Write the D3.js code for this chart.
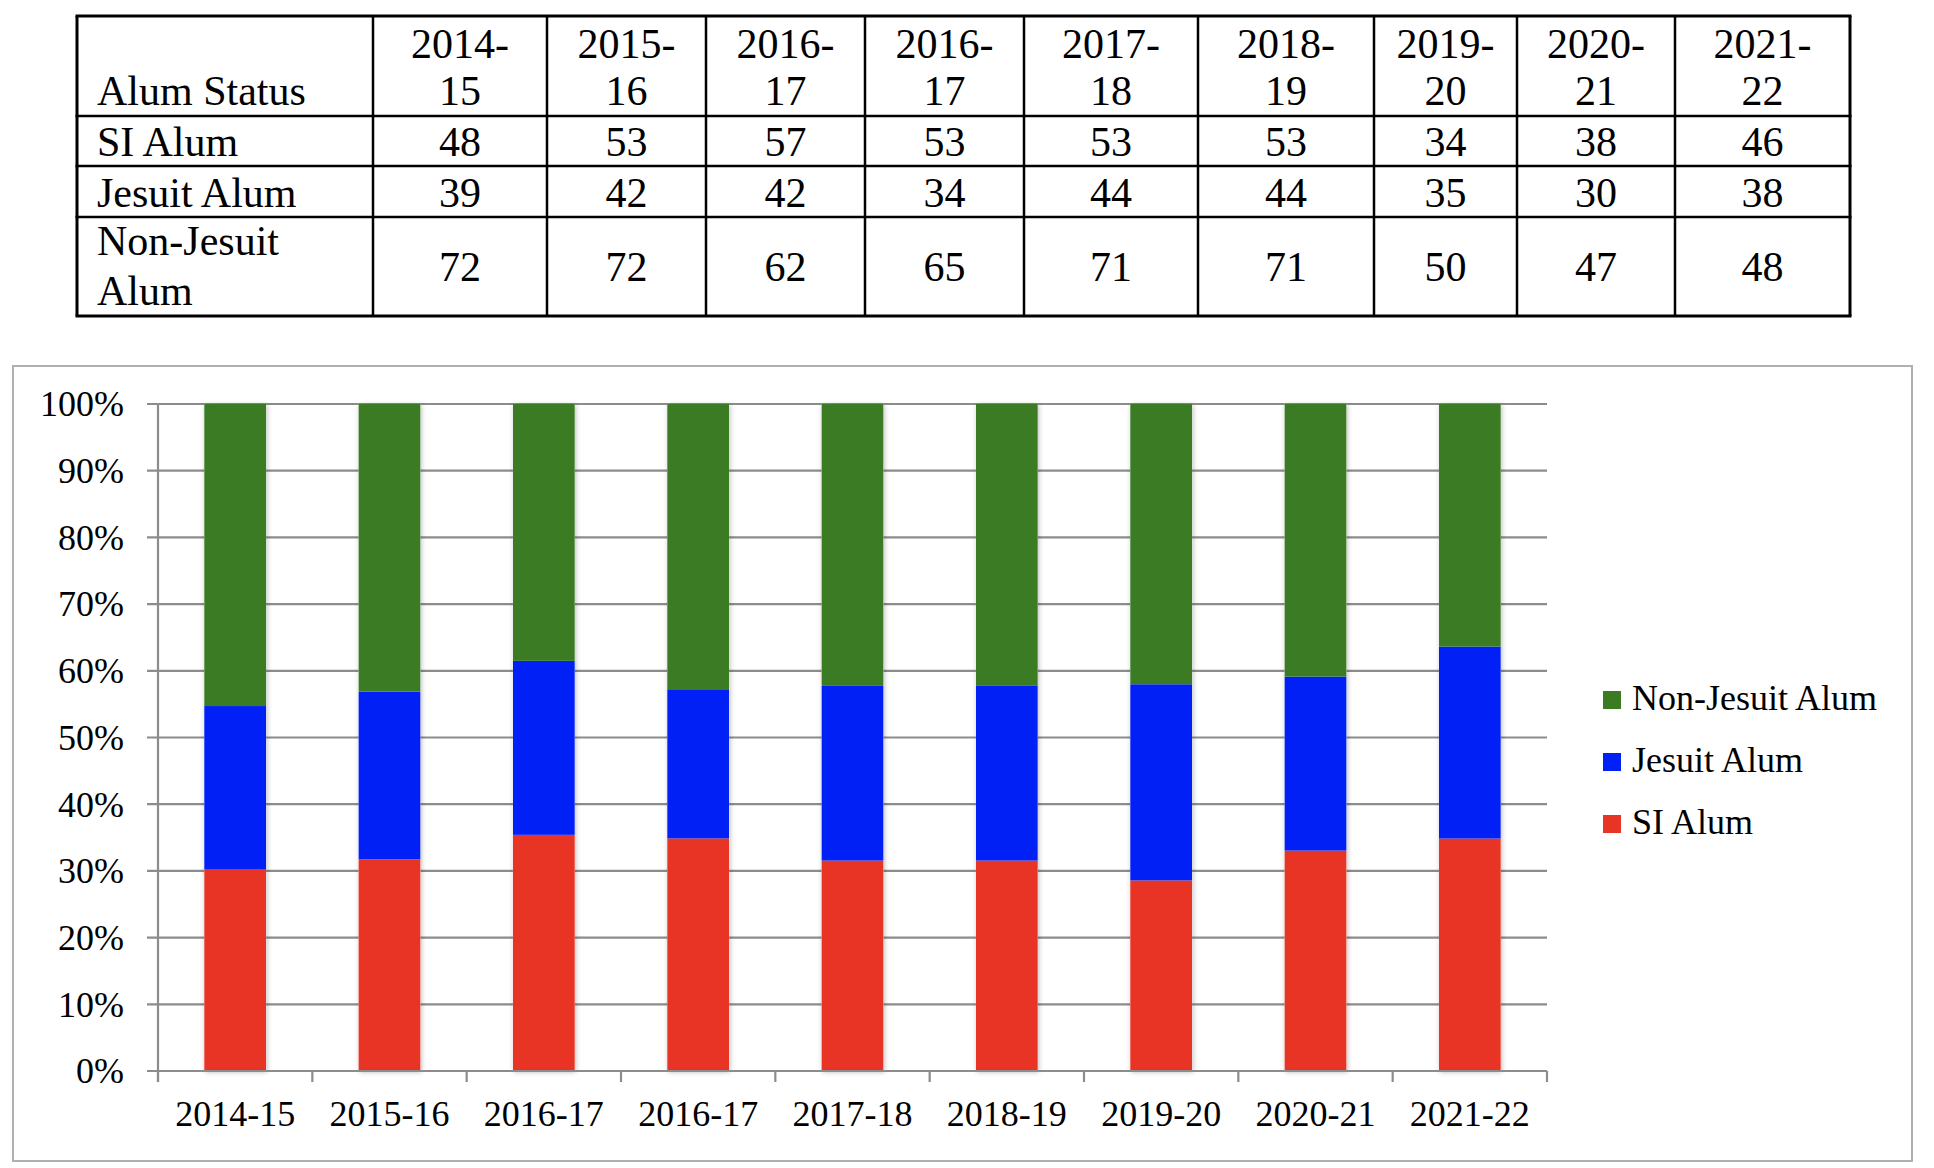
<!DOCTYPE html>
<html>
<head>
<meta charset="utf-8">
<script src="https://cdn.jsdelivr.net/npm/d3@7"></script>
<style>
  html, body { margin: 0; padding: 0; background: #fff; }
  svg { display: block; }
</style>
</head>
<body>
<svg id="chart" width="1934" height="1168"></svg>
<script>
// ---------- DATA ----------
const categories = ["2014-15", "2015-16", "2016-17", "2016-17", "2017-18", "2018-19", "2019-20", "2020-21", "2021-22"];
const headerLine1 = ["2014-", "2015-", "2016-", "2016-", "2017-", "2018-", "2019-", "2020-", "2021-"];
const headerLine2 = ["15", "16", "17", "17", "18", "19", "20", "21", "22"];
const seriesNames = ["SI Alum", "Jesuit Alum", "Non-Jesuit Alum"];
const siAlum = [48, 53, 57, 53, 53, 53, 34, 38, 46];
const jesuitAlum = [39, 42, 42, 34, 44, 44, 35, 30, 38];
const nonJesuitAlum = [72, 72, 62, 65, 71, 71, 50, 47, 48];
const yTicks = [0, 0.1, 0.2, 0.3, 0.4, 0.5, 0.6, 0.7, 0.8, 0.9, 1.0];
const colors = { "SI Alum": "#e83424", "Jesuit Alum": "#0020f6", "Non-Jesuit Alum": "#3a7b23" };

const svg = d3.select("#chart");

// ---------- TABLE ----------
const colEdges = [77, 373, 547, 706, 865, 1024, 1198, 1374, 1517, 1675, 1850];
const rowEdges = [16, 116, 166, 217, 316];
const tFont = "'Liberation Serif', 'Times New Roman', serif";
const tSize = 42;
const table = svg.append("g");

rowEdges.forEach((y, i) => {
  table.append("line").attr("x1", colEdges[0] - 1.5).attr("x2", colEdges[colEdges.length - 1] + 1.5)
    .attr("y1", y).attr("y2", y).attr("stroke", "#000")
    .attr("stroke-width", (i === 0 || i === rowEdges.length - 1) ? 3 : 2.5);
});
colEdges.forEach((x, i) => {
  table.append("line").attr("x1", x).attr("x2", x)
    .attr("y1", rowEdges[0]).attr("y2", rowEdges[rowEdges.length - 1]).attr("stroke", "#000")
    .attr("stroke-width", (i === 0 || i === colEdges.length - 1) ? 3 : 2.5);
});

function ttext(x, y, s, anchor) {
  table.append("text").attr("x", x).attr("y", y).attr("text-anchor", anchor || "start")
    .attr("font-family", tFont).attr("font-size", tSize).attr("fill", "#000").text(s);
}
const labX = 97;
ttext(labX, 105, "Alum Status");
ttext(labX, 156, "SI Alum");
ttext(labX, 207, "Jesuit Alum");
ttext(labX, 255, "Non-Jesuit");
ttext(labX, 305, "Alum");
const rowsVals = [siAlum, jesuitAlum, nonJesuitAlum];
const rowBase = [156, 207, 281];
categories.forEach((c, i) => {
  const cx = (colEdges[i + 1] + colEdges[i + 2]) / 2;
  ttext(cx, 58, headerLine1[i], "middle");
  ttext(cx, 105, headerLine2[i], "middle");
  rowsVals.forEach((arr, r) => ttext(cx, rowBase[r], arr[i], "middle"));
});

// ---------- CHART ----------
const cFont = "'Liberation Serif', 'Times New Roman', serif";
const cSize = 36;
const gridColor = "#8c8c8c";

svg.append("rect").attr("x", 13).attr("y", 366).attr("width", 1899).attr("height", 795)
  .attr("fill", "none").attr("stroke", "#b0b0b0").attr("stroke-width", 2);

const defs = svg.append("defs");
const f = defs.append("filter").attr("id", "shadow").attr("x", "-20%").attr("y", "-5%").attr("width", "140%").attr("height", "110%");
f.append("feDropShadow").attr("dx", 1).attr("dy", 1).attr("stdDeviation", 2.5)
  .attr("flood-color", "#000").attr("flood-opacity", 0.28);

const plotL = 158, plotR = 1547, plotT = 404, plotB = 1071;
const idx = categories.map((d, i) => i);
const x = d3.scaleBand().domain(idx).range([plotL, plotR]).paddingInner(0.6).paddingOuter(0.3);
const xTickScale = d3.scaleBand().domain(idx).range([plotL, plotR]).padding(0);
const y = d3.scaleLinear().domain([0, 1]).range([plotB, plotT]);

svg.append("g").selectAll("line").data(yTicks).join("line")
  .attr("x1", plotL - 11).attr("x2", plotR)
  .attr("y1", d => y(d)).attr("y2", d => y(d))
  .attr("stroke", gridColor).attr("stroke-width", 2.2);

const rows = idx.map(i => ({ i, "SI Alum": siAlum[i], "Jesuit Alum": jesuitAlum[i], "Non-Jesuit Alum": nonJesuitAlum[i] }));
const stack = d3.stack().keys(seriesNames).offset(d3.stackOffsetExpand)(rows);

const barsG = svg.append("g");
barsG.selectAll("rect.sh").data(rows).join("rect").attr("class", "sh")
  .attr("x", d => x(d.i)).attr("width", x.bandwidth())
  .attr("y", y(1)).attr("height", y(0) - y(1))
  .attr("fill", "#fff").attr("filter", "url(#shadow)");
stack.forEach(s => {
  barsG.append("g").attr("fill", colors[s.key]).selectAll("rect").data(s).join("rect")
    .attr("x", d => x(d.data.i)).attr("width", x.bandwidth())
    .attr("y", d => y(d[1])).attr("height", d => y(d[0]) - y(d[1]));
});

const yAxis = d3.axisLeft(y).tickValues(yTicks).tickFormat(d3.format(".0%")).tickSize(11).tickPadding(23);
const yg = svg.append("g").attr("transform", `translate(${plotL},0)`).call(yAxis);
yg.select(".domain").remove();
yg.selectAll(".tick line").remove();
yg.selectAll("text").attr("font-family", cFont).attr("font-size", cSize).attr("fill", "#000").attr("dy", "0.33em");
svg.append("line").attr("x1", plotL).attr("x2", plotL).attr("y1", plotT - 1).attr("y2", plotB + 11)
  .attr("stroke", gridColor).attr("stroke-width", 2.2);

const xg = svg.append("g").attr("transform", `translate(0,${plotB})`);
const tickPos = idx.map(i => xTickScale(i)).concat([plotR]);
xg.selectAll("line").data(tickPos).join("line")
  .attr("x1", d => d).attr("x2", d => d).attr("y1", 0).attr("y2", 11)
  .attr("stroke", gridColor).attr("stroke-width", 2.2);
xg.append("line").attr("x1", plotL).attr("x2", plotR).attr("y1", 0).attr("y2", 0)
  .attr("stroke", gridColor).attr("stroke-width", 2.2);
xg.selectAll("text").data(idx).join("text")
  .attr("x", i => x(i) + x.bandwidth() / 2).attr("y", 55)
  .attr("text-anchor", "middle").attr("font-family", cFont).attr("font-size", cSize).attr("fill", "#000")
  .text(i => categories[i]);

const legendItems = ["Non-Jesuit Alum", "Jesuit Alum", "SI Alum"];
const lg = svg.append("g").attr("transform", "translate(1603,691)");
legendItems.forEach((k, j) => {
  const g = lg.append("g").attr("transform", `translate(0,${j * 62})`);
  g.append("rect").attr("width", 18).attr("height", 18).attr("fill", colors[k]);
  g.append("text").attr("x", 29).attr("y", 19).attr("font-family", cFont).attr("font-size", cSize)
    .attr("fill", "#000").text(k);
});
</script>
</body>
</html>
